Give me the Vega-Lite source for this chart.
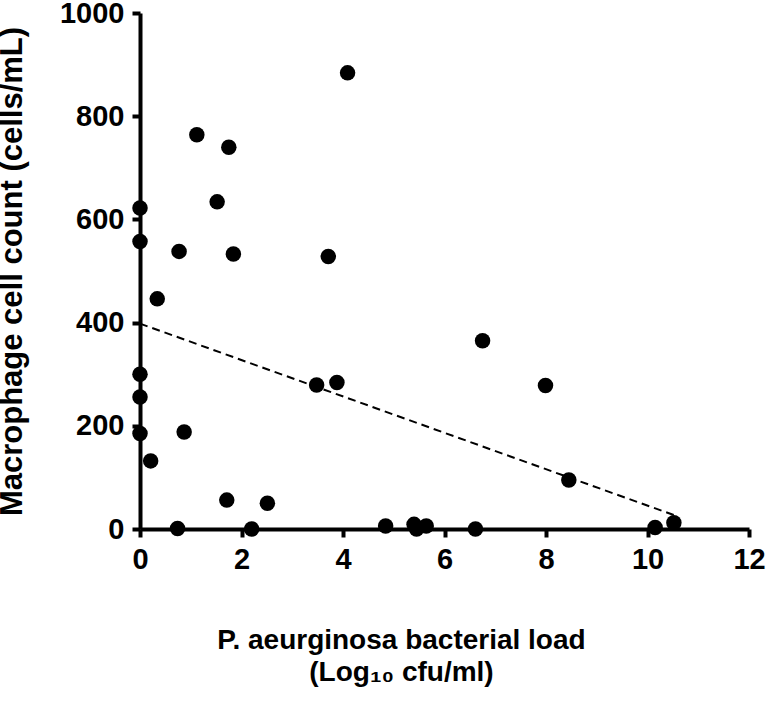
{
  "$schema": "https://vega.github.io/schema/vega-lite/v6.json",
  "autosize": {"type": "none"},
  "width": 609,
  "height": 516,
  "padding": {"left": 140, "top": 13, "right": 18, "bottom": 174},
  "background": "white",
  "config": {
    "view": {"stroke": null},
    "font": "Liberation Sans",
    "axis": {
      "grid": false,
      "domainColor": "black",
      "domainWidth": 4,
      "tickColor": "black",
      "tickWidth": 4,
      "tickSize": 8,
      "labelFlush": false,
      "labelOverlap": false,
      "labelFont": "Liberation Sans",
      "labelFontWeight": "bold",
      "labelFontSize": 29,
      "labelColor": "black",
      "titleFont": "Liberation Sans",
      "titleFontWeight": "bold",
      "titleColor": "black"
    }
  },
  "layer": [
    {
      "data": {
        "values": [
          {"load": 0, "count": 622},
          {"load": 0, "count": 557},
          {"load": 0, "count": 300},
          {"load": 0, "count": 256},
          {"load": 0, "count": 185},
          {"load": 0.21, "count": 132},
          {"load": 0.34, "count": 446},
          {"load": 0.77, "count": 538},
          {"load": 1.12, "count": 764},
          {"load": 1.52, "count": 634},
          {"load": 1.75, "count": 740},
          {"load": 1.84, "count": 533},
          {"load": 3.71, "count": 528},
          {"load": 4.09, "count": 884},
          {"load": 0.87, "count": 188},
          {"load": 0.74, "count": 1},
          {"load": 1.71, "count": 56},
          {"load": 2.2, "count": 0},
          {"load": 2.51, "count": 50},
          {"load": 3.48, "count": 279},
          {"load": 3.88, "count": 284},
          {"load": 4.84, "count": 6},
          {"load": 5.4, "count": 9},
          {"load": 5.45, "count": 0},
          {"load": 5.64, "count": 6},
          {"load": 6.61, "count": 0},
          {"load": 6.75, "count": 365},
          {"load": 7.99, "count": 278},
          {"load": 8.45, "count": 95},
          {"load": 10.15, "count": 3},
          {"load": 10.52, "count": 12}
        ]
      },
      "mark": {"type": "point", "filled": true, "color": "black", "opacity": 1, "size": 240, "shape": "circle"},
      "encoding": {
        "x": {
          "field": "load", "type": "quantitative",
          "scale": {"domain": [0, 12], "nice": false, "zero": false},
          "axis": {
            "values": [0, 2, 4, 6, 8, 10, 12],
            "format": "d",
            "labelPadding": 8,
            "title": ["P. aeurginosa bacterial load", "(Log₁₀ cfu/ml)"],
            "titleFontSize": 28,
            "titleLineHeight": 32,
            "titlePadding": 52,
            "titleX": 261,
            "titleAlign": "center"
          }
        },
        "y": {
          "field": "count", "type": "quantitative",
          "scale": {"domain": [0, 1000], "nice": false},
          "axis": {
            "values": [0, 200, 400, 600, 800, 1000],
            "format": "d",
            "labelPadding": 8,
            "title": "Macrophage cell count (cells/mL)",
            "titleFontSize": 31,
            "titlePadding": 31
          }
        }
      }
    },
    {
      "data": {
        "values": [
          {"load": 0, "count": 398},
          {"load": 10.52, "count": 27}
        ]
      },
      "mark": {"type": "line", "color": "black", "strokeWidth": 2, "strokeDash": [8, 5]},
      "encoding": {
        "x": {"field": "load", "type": "quantitative"},
        "y": {"field": "count", "type": "quantitative"}
      }
    }
  ]
}
